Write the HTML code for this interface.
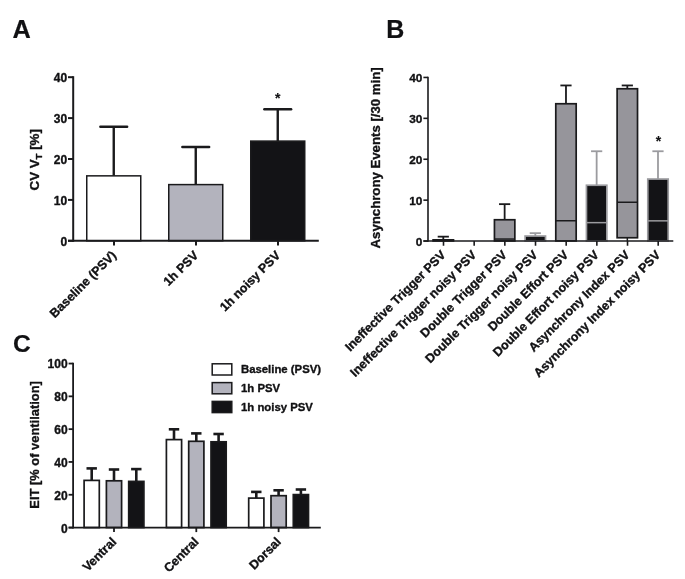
<!DOCTYPE html>
<html lang="en">
<head>
<meta charset="utf-8">
<title>Figure</title>
<style>
html,body{margin:0;padding:0;background:#ffffff;}
body{width:685px;height:579px;overflow:hidden;}
svg{display:block;}
svg text{font-family:"Liberation Sans",Arial,Helvetica,sans-serif;font-weight:bold;fill:#111113;stroke:#111113;stroke-width:0.35px;stroke-linejoin:round;}
</style>
</head>
<body>
<svg width="685" height="579" viewBox="0 0 685 579">
<rect x="0" y="0" width="685" height="579" fill="#ffffff"/>
<text x="12.60" y="37.80" font-size="25.3" text-anchor="start" style="stroke-width:0.2px">A</text>
<text x="386.20" y="37.70" font-size="25" text-anchor="start" style="stroke-width:0.2px">B</text>
<text x="13.00" y="351.60" font-size="24.6" text-anchor="start" style="stroke-width:0.15px">C</text>
<line x1="113.75" y1="175.85" x2="113.75" y2="126.80" stroke="#1a1a1c" stroke-width="2.4" stroke-linecap="butt"/>
<line x1="100.35" y1="126.80" x2="127.15" y2="126.80" stroke="#1a1a1c" stroke-width="2.4" stroke-linecap="round"/>
<rect x="86.75" y="175.85" width="54.00" height="64.95" fill="#ffffff" stroke="#1a1a1c" stroke-width="1.5"/>
<line x1="195.75" y1="184.60" x2="195.75" y2="147.00" stroke="#1a1a1c" stroke-width="2.4" stroke-linecap="butt"/>
<line x1="182.35" y1="147.00" x2="209.15" y2="147.00" stroke="#1a1a1c" stroke-width="2.4" stroke-linecap="round"/>
<rect x="168.75" y="184.60" width="54.00" height="56.20" fill="#b3b3bd" stroke="#1a1a1c" stroke-width="1.5"/>
<line x1="277.75" y1="141.10" x2="277.75" y2="109.25" stroke="#1a1a1c" stroke-width="2.4" stroke-linecap="butt"/>
<line x1="264.35" y1="109.25" x2="291.15" y2="109.25" stroke="#1a1a1c" stroke-width="2.4" stroke-linecap="round"/>
<rect x="250.75" y="141.10" width="54.00" height="99.70" fill="#131316" stroke="#1a1a1c" stroke-width="1.5"/>
<line x1="73.20" y1="76.20" x2="73.20" y2="241.80" stroke="#1a1a1c" stroke-width="2" stroke-linecap="butt"/>
<line x1="68.00" y1="240.80" x2="318.80" y2="240.80" stroke="#1a1a1c" stroke-width="2" stroke-linecap="butt"/>
<line x1="68.00" y1="240.80" x2="73.20" y2="240.80" stroke="#1a1a1c" stroke-width="2" stroke-linecap="butt"/>
<text x="67.10" y="245.60" font-size="12" text-anchor="end">0</text>
<line x1="68.00" y1="199.90" x2="73.20" y2="199.90" stroke="#1a1a1c" stroke-width="2" stroke-linecap="butt"/>
<text x="67.10" y="204.70" font-size="12" text-anchor="end">10</text>
<line x1="68.00" y1="159.00" x2="73.20" y2="159.00" stroke="#1a1a1c" stroke-width="2" stroke-linecap="butt"/>
<text x="67.10" y="163.80" font-size="12" text-anchor="end">20</text>
<line x1="68.00" y1="118.10" x2="73.20" y2="118.10" stroke="#1a1a1c" stroke-width="2" stroke-linecap="butt"/>
<text x="67.10" y="122.90" font-size="12" text-anchor="end">30</text>
<line x1="68.00" y1="77.20" x2="73.20" y2="77.20" stroke="#1a1a1c" stroke-width="2" stroke-linecap="butt"/>
<text x="67.10" y="82.00" font-size="12" text-anchor="end">40</text>
<line x1="114.00" y1="240.80" x2="114.00" y2="245.50" stroke="#1a1a1c" stroke-width="2" stroke-linecap="butt"/>
<line x1="196.00" y1="240.80" x2="196.00" y2="245.50" stroke="#1a1a1c" stroke-width="2" stroke-linecap="butt"/>
<line x1="278.00" y1="240.80" x2="278.00" y2="245.50" stroke="#1a1a1c" stroke-width="2" stroke-linecap="butt"/>
<text transform="translate(113.95,253.00) rotate(-45)" font-size="12.5" text-anchor="end" dy="4.4">Baseline (PSV)</text>
<text transform="translate(195.95,253.00) rotate(-45)" font-size="12.5" text-anchor="end" dy="4.4">1h PSV</text>
<text transform="translate(277.95,253.00) rotate(-45)" font-size="12.5" text-anchor="end" dy="4.4">1h noisy PSV</text>
<text x="277.70" y="103.30" font-size="14" text-anchor="middle" style="stroke-width:0.1px">*</text>
<text transform="translate(38.7,159.8) rotate(-90)" font-size="13.3" text-anchor="middle">CV V<tspan font-size="9.6" dy="3.3">T</tspan><tspan dy="-3.3"> [%]</tspan></text>
<g transform="translate(0,0.45)">
<line x1="443.30" y1="239.40" x2="443.30" y2="236.20" stroke="#1a1a1c" stroke-width="1.8" stroke-linecap="butt"/>
<line x1="437.70" y1="236.20" x2="448.90" y2="236.20" stroke="#1a1a1c" stroke-width="1.8" stroke-linecap="butt"/>
<rect x="433.10" y="239.40" width="20.40" height="1.10" fill="#96959b" stroke="#1a1a1c" stroke-width="1.7"/>
<line x1="504.64" y1="219.30" x2="504.64" y2="203.70" stroke="#1a1a1c" stroke-width="1.8" stroke-linecap="butt"/>
<line x1="499.04" y1="203.70" x2="510.24" y2="203.70" stroke="#1a1a1c" stroke-width="1.8" stroke-linecap="butt"/>
<rect x="494.44" y="219.30" width="20.40" height="21.20" fill="#96959b" stroke="#1a1a1c" stroke-width="1.7"/>
<line x1="494.44" y1="238.60" x2="514.84" y2="238.60" stroke="#1a1a1c" stroke-width="1.5" stroke-linecap="butt"/>
<line x1="535.31" y1="235.60" x2="535.31" y2="232.70" stroke="#9b9b9f" stroke-width="1.8" stroke-linecap="butt"/>
<line x1="529.71" y1="232.70" x2="540.91" y2="232.70" stroke="#9b9b9f" stroke-width="1.8" stroke-linecap="butt"/>
<rect x="525.11" y="235.60" width="20.40" height="4.90" fill="#131316" stroke="#9b9b9f" stroke-width="1.7"/>
<line x1="565.98" y1="103.30" x2="565.98" y2="85.00" stroke="#1a1a1c" stroke-width="1.8" stroke-linecap="butt"/>
<line x1="560.38" y1="85.00" x2="571.58" y2="85.00" stroke="#1a1a1c" stroke-width="1.8" stroke-linecap="butt"/>
<rect x="555.78" y="103.30" width="20.40" height="137.20" fill="#96959b" stroke="#1a1a1c" stroke-width="1.7"/>
<line x1="555.78" y1="220.30" x2="576.18" y2="220.30" stroke="#1a1a1c" stroke-width="1.5" stroke-linecap="butt"/>
<line x1="596.65" y1="184.80" x2="596.65" y2="150.80" stroke="#9b9b9f" stroke-width="1.8" stroke-linecap="butt"/>
<line x1="591.05" y1="150.80" x2="602.25" y2="150.80" stroke="#9b9b9f" stroke-width="1.8" stroke-linecap="butt"/>
<rect x="586.45" y="184.80" width="20.40" height="55.70" fill="#131316" stroke="#9b9b9f" stroke-width="1.7"/>
<line x1="586.45" y1="222.20" x2="606.85" y2="222.20" stroke="#9b9b9f" stroke-width="1.5" stroke-linecap="butt"/>
<line x1="627.32" y1="88.30" x2="627.32" y2="85.00" stroke="#1a1a1c" stroke-width="1.8" stroke-linecap="butt"/>
<line x1="621.72" y1="85.00" x2="632.92" y2="85.00" stroke="#1a1a1c" stroke-width="1.8" stroke-linecap="butt"/>
<line x1="627.32" y1="237.30" x2="627.32" y2="240.50" stroke="#1a1a1c" stroke-width="1.5" stroke-linecap="butt"/>
<rect x="617.12" y="88.30" width="20.40" height="149.00" fill="#96959b" stroke="#1a1a1c" stroke-width="1.7"/>
<line x1="617.12" y1="201.80" x2="637.52" y2="201.80" stroke="#1a1a1c" stroke-width="1.5" stroke-linecap="butt"/>
<line x1="657.99" y1="178.60" x2="657.99" y2="150.80" stroke="#9b9b9f" stroke-width="1.8" stroke-linecap="butt"/>
<line x1="652.39" y1="150.80" x2="663.59" y2="150.80" stroke="#9b9b9f" stroke-width="1.8" stroke-linecap="butt"/>
<rect x="647.79" y="178.60" width="20.40" height="61.90" fill="#131316" stroke="#9b9b9f" stroke-width="1.7"/>
<line x1="647.79" y1="220.40" x2="668.19" y2="220.40" stroke="#9b9b9f" stroke-width="1.5" stroke-linecap="butt"/>
<line x1="428.00" y1="76.40" x2="428.00" y2="241.30" stroke="#1a1a1c" stroke-width="1.6" stroke-linecap="butt"/>
<line x1="423.40" y1="240.50" x2="673.30" y2="240.50" stroke="#1a1a1c" stroke-width="1.6" stroke-linecap="butt"/>
<line x1="423.40" y1="240.60" x2="428.00" y2="240.60" stroke="#1a1a1c" stroke-width="1.6" stroke-linecap="butt"/>
<text x="422.40" y="245.30" font-size="11.8" text-anchor="end">0</text>
<line x1="423.40" y1="199.70" x2="428.00" y2="199.70" stroke="#1a1a1c" stroke-width="1.6" stroke-linecap="butt"/>
<text x="422.40" y="204.40" font-size="11.8" text-anchor="end">10</text>
<line x1="423.40" y1="158.80" x2="428.00" y2="158.80" stroke="#1a1a1c" stroke-width="1.6" stroke-linecap="butt"/>
<text x="422.40" y="163.50" font-size="11.8" text-anchor="end">20</text>
<line x1="423.40" y1="117.90" x2="428.00" y2="117.90" stroke="#1a1a1c" stroke-width="1.6" stroke-linecap="butt"/>
<text x="422.40" y="122.60" font-size="11.8" text-anchor="end">30</text>
<line x1="423.40" y1="77.00" x2="428.00" y2="77.00" stroke="#1a1a1c" stroke-width="1.6" stroke-linecap="butt"/>
<text x="422.40" y="81.70" font-size="11.8" text-anchor="end">40</text>
<line x1="443.50" y1="240.50" x2="443.50" y2="245.30" stroke="#1a1a1c" stroke-width="1.6" stroke-linecap="butt"/>
<line x1="474.17" y1="240.50" x2="474.17" y2="245.30" stroke="#1a1a1c" stroke-width="1.6" stroke-linecap="butt"/>
<line x1="504.84" y1="240.50" x2="504.84" y2="245.30" stroke="#1a1a1c" stroke-width="1.6" stroke-linecap="butt"/>
<line x1="535.51" y1="240.50" x2="535.51" y2="245.30" stroke="#1a1a1c" stroke-width="1.6" stroke-linecap="butt"/>
<line x1="566.18" y1="240.50" x2="566.18" y2="245.30" stroke="#1a1a1c" stroke-width="1.6" stroke-linecap="butt"/>
<line x1="596.85" y1="240.50" x2="596.85" y2="245.30" stroke="#1a1a1c" stroke-width="1.6" stroke-linecap="butt"/>
<line x1="627.52" y1="240.50" x2="627.52" y2="245.30" stroke="#1a1a1c" stroke-width="1.6" stroke-linecap="butt"/>
<line x1="658.19" y1="240.50" x2="658.19" y2="245.30" stroke="#1a1a1c" stroke-width="1.6" stroke-linecap="butt"/>
</g>
<text transform="translate(443.30,252.60) rotate(-45)" font-size="12.5" text-anchor="end" dy="4.4">Ineffective Trigger PSV</text>
<text transform="translate(473.97,252.60) rotate(-45)" font-size="12.5" text-anchor="end" dy="4.4">Ineffective Trigger noisy PSV</text>
<text transform="translate(504.64,252.60) rotate(-45)" font-size="12.5" text-anchor="end" dy="4.4">Double Trigger PSV</text>
<text transform="translate(535.31,252.60) rotate(-45)" font-size="12.5" text-anchor="end" dy="4.4">Double Trigger noisy PSV</text>
<text transform="translate(565.98,252.60) rotate(-45)" font-size="12.5" text-anchor="end" dy="4.4">Double Effort PSV</text>
<text transform="translate(596.65,252.60) rotate(-45)" font-size="12.5" text-anchor="end" dy="4.4">Double Effort noisy PSV</text>
<text transform="translate(627.32,252.60) rotate(-45)" font-size="12.5" text-anchor="end" dy="4.4">Asynchrony Index PSV</text>
<text transform="translate(657.99,252.60) rotate(-45)" font-size="12.5" text-anchor="end" dy="4.4">Asynchrony Index noisy PSV</text>
<text x="658.60" y="146.20" font-size="14" text-anchor="middle" style="stroke-width:0.1px">*</text>
<text transform="translate(379.7,157.9) rotate(-90)" font-size="13.2" text-anchor="middle">Asynchrony Events [/30 min]</text>
<line x1="91.70" y1="480.40" x2="91.70" y2="468.40" stroke="#1a1a1c" stroke-width="2.6" stroke-linecap="butt"/>
<line x1="86.50" y1="468.40" x2="96.90" y2="468.40" stroke="#1a1a1c" stroke-width="2.6" stroke-linecap="butt"/>
<rect x="84.10" y="480.40" width="15.20" height="47.15" fill="#ffffff" stroke="#1a1a1c" stroke-width="1.7"/>
<line x1="114.00" y1="480.80" x2="114.00" y2="469.50" stroke="#1a1a1c" stroke-width="2.6" stroke-linecap="butt"/>
<line x1="108.80" y1="469.50" x2="119.20" y2="469.50" stroke="#1a1a1c" stroke-width="2.6" stroke-linecap="butt"/>
<rect x="106.40" y="480.80" width="15.20" height="46.75" fill="#b3b3bd" stroke="#1a1a1c" stroke-width="1.7"/>
<line x1="136.30" y1="481.40" x2="136.30" y2="469.10" stroke="#1a1a1c" stroke-width="2.6" stroke-linecap="butt"/>
<line x1="131.10" y1="469.10" x2="141.50" y2="469.10" stroke="#1a1a1c" stroke-width="2.6" stroke-linecap="butt"/>
<rect x="128.70" y="481.40" width="15.20" height="46.15" fill="#131316" stroke="#1a1a1c" stroke-width="1.7"/>
<line x1="174.00" y1="439.60" x2="174.00" y2="429.30" stroke="#1a1a1c" stroke-width="2.6" stroke-linecap="butt"/>
<line x1="168.80" y1="429.30" x2="179.20" y2="429.30" stroke="#1a1a1c" stroke-width="2.6" stroke-linecap="butt"/>
<rect x="166.40" y="439.60" width="15.20" height="87.95" fill="#ffffff" stroke="#1a1a1c" stroke-width="1.7"/>
<line x1="196.30" y1="441.30" x2="196.30" y2="433.40" stroke="#1a1a1c" stroke-width="2.6" stroke-linecap="butt"/>
<line x1="191.10" y1="433.40" x2="201.50" y2="433.40" stroke="#1a1a1c" stroke-width="2.6" stroke-linecap="butt"/>
<rect x="188.70" y="441.30" width="15.20" height="86.25" fill="#b3b3bd" stroke="#1a1a1c" stroke-width="1.7"/>
<line x1="218.60" y1="441.80" x2="218.60" y2="434.00" stroke="#1a1a1c" stroke-width="2.6" stroke-linecap="butt"/>
<line x1="213.40" y1="434.00" x2="223.80" y2="434.00" stroke="#1a1a1c" stroke-width="2.6" stroke-linecap="butt"/>
<rect x="211.00" y="441.80" width="15.20" height="85.75" fill="#131316" stroke="#1a1a1c" stroke-width="1.7"/>
<line x1="256.30" y1="498.10" x2="256.30" y2="491.90" stroke="#1a1a1c" stroke-width="2.6" stroke-linecap="butt"/>
<line x1="251.10" y1="491.90" x2="261.50" y2="491.90" stroke="#1a1a1c" stroke-width="2.6" stroke-linecap="butt"/>
<rect x="248.70" y="498.10" width="15.20" height="29.45" fill="#ffffff" stroke="#1a1a1c" stroke-width="1.7"/>
<line x1="278.60" y1="495.70" x2="278.60" y2="490.30" stroke="#1a1a1c" stroke-width="2.6" stroke-linecap="butt"/>
<line x1="273.40" y1="490.30" x2="283.80" y2="490.30" stroke="#1a1a1c" stroke-width="2.6" stroke-linecap="butt"/>
<rect x="271.00" y="495.70" width="15.20" height="31.85" fill="#b3b3bd" stroke="#1a1a1c" stroke-width="1.7"/>
<line x1="300.90" y1="494.60" x2="300.90" y2="489.50" stroke="#1a1a1c" stroke-width="2.6" stroke-linecap="butt"/>
<line x1="295.70" y1="489.50" x2="306.10" y2="489.50" stroke="#1a1a1c" stroke-width="2.6" stroke-linecap="butt"/>
<rect x="293.30" y="494.60" width="15.20" height="32.95" fill="#131316" stroke="#1a1a1c" stroke-width="1.7"/>
<line x1="73.10" y1="362.65" x2="73.10" y2="528.45" stroke="#1a1a1c" stroke-width="1.8" stroke-linecap="butt"/>
<line x1="68.60" y1="527.55" x2="320.80" y2="527.55" stroke="#1a1a1c" stroke-width="1.8" stroke-linecap="butt"/>
<line x1="68.60" y1="527.55" x2="73.10" y2="527.55" stroke="#1a1a1c" stroke-width="1.8" stroke-linecap="butt"/>
<text x="67.60" y="532.60" font-size="12" text-anchor="end">0</text>
<line x1="68.60" y1="494.75" x2="73.10" y2="494.75" stroke="#1a1a1c" stroke-width="1.8" stroke-linecap="butt"/>
<text x="67.60" y="499.60" font-size="12" text-anchor="end">20</text>
<line x1="68.60" y1="461.95" x2="73.10" y2="461.95" stroke="#1a1a1c" stroke-width="1.8" stroke-linecap="butt"/>
<text x="67.60" y="466.60" font-size="12" text-anchor="end">40</text>
<line x1="68.60" y1="429.15" x2="73.10" y2="429.15" stroke="#1a1a1c" stroke-width="1.8" stroke-linecap="butt"/>
<text x="67.60" y="433.60" font-size="12" text-anchor="end">60</text>
<line x1="68.60" y1="396.35" x2="73.10" y2="396.35" stroke="#1a1a1c" stroke-width="1.8" stroke-linecap="butt"/>
<text x="67.60" y="400.60" font-size="12" text-anchor="end">80</text>
<line x1="68.60" y1="363.55" x2="73.10" y2="363.55" stroke="#1a1a1c" stroke-width="1.8" stroke-linecap="butt"/>
<text x="67.60" y="367.60" font-size="12" text-anchor="end">100</text>
<line x1="114.00" y1="527.55" x2="114.00" y2="532.10" stroke="#1a1a1c" stroke-width="1.8" stroke-linecap="butt"/>
<text transform="translate(114.00,539.50) rotate(-45)" font-size="12.5" text-anchor="end" dy="4.4">Ventral</text>
<line x1="196.30" y1="527.55" x2="196.30" y2="532.10" stroke="#1a1a1c" stroke-width="1.8" stroke-linecap="butt"/>
<text transform="translate(196.30,539.50) rotate(-45)" font-size="12.5" text-anchor="end" dy="4.4">Central</text>
<line x1="278.60" y1="527.55" x2="278.60" y2="532.10" stroke="#1a1a1c" stroke-width="1.8" stroke-linecap="butt"/>
<text transform="translate(278.60,539.50) rotate(-45)" font-size="12.5" text-anchor="end" dy="4.4">Dorsal</text>
<text transform="translate(39.4,444.9) rotate(-90)" font-size="12.9" text-anchor="middle">EIT [% of ventilation]</text>
<rect x="212.20" y="363.80" width="19.60" height="11.20" fill="#ffffff" stroke="#1a1a1c" stroke-width="1.5"/>
<text x="241.00" y="373.00" font-size="11.35" text-anchor="start">Baseline (PSV)</text>
<rect x="212.20" y="382.60" width="19.60" height="11.20" fill="#b3b3bd" stroke="#1a1a1c" stroke-width="1.5"/>
<text x="241.00" y="391.80" font-size="11.35" text-anchor="start">1h PSV</text>
<rect x="212.20" y="401.40" width="19.60" height="11.20" fill="#131316" stroke="#1a1a1c" stroke-width="1.5"/>
<text x="241.00" y="410.60" font-size="11.35" text-anchor="start">1h noisy PSV</text>
</svg>
</body>
</html>
